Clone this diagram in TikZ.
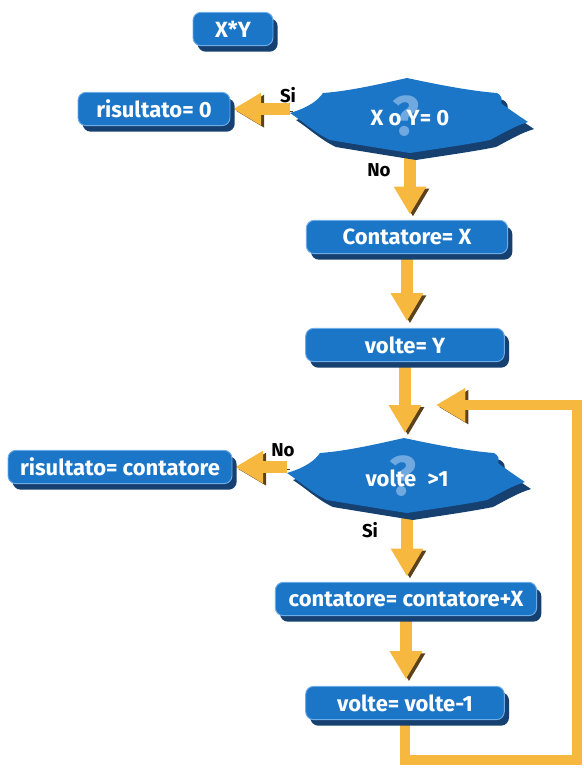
\documentclass[tikz,border=0pt]{standalone}
\usepackage{fontspec}
\setmainfont{Fira Sans}
\usetikzlibrary{arrows.meta, shadows, backgrounds, calc}

\definecolor{BoxBlue}{RGB}{28,118,200}
\definecolor{BoxShade}{RGB}{22,64,112}
\definecolor{BoxEdge}{RGB}{110,172,232}
\definecolor{QuestBlue}{RGB}{112,168,224}
\definecolor{FlowYellow}{RGB}{247,184,64}
\definecolor{FlowShade}{RGB}{92,66,28}

% decision block: dark copy first, blue face on top (units are the picture's px)
\newcommand{\decisionshape}[1]{%
  \foreach \col/\dx/\dy in {BoxShade/6/7, BoxBlue/0/0}
    \fill[\col, shift={(#1)}, shift={(\dx,\dy)}]
      (-3,-40) .. controls (-30,-34) and (-60,-27) .. (-87,-25)
      .. controls (-92,-18) and (-100,-11) .. (-120,-5)
      .. controls (-105,5) and (-95,15) .. (-80,22)
      .. controls (-50,27) and (-25,31) .. (0,35)
      .. controls (25,31) and (55,27) .. (80,22)
      .. controls (95,14) and (105,8) .. (118,4)
      .. controls (106,-4) and (96,-11) .. (91,-15)
      .. controls (93,-19) and (91,-23) .. (87,-25)
      .. controls (60,-27) and (25,-34) .. cycle;
}

\begin{document}
\begin{tikzpicture}[x=0.75pt, y=-0.75pt,
    box/.style={rounded corners=6pt, fill=BoxBlue, draw=BoxEdge, line width=0.7pt,
      text=white, font=\bfseries\fontsize{16.5}{18}\selectfont, minimum height=25pt,
      general shadow={fill=BoxShade, shadow xshift=3.5pt, shadow yshift=-4.5pt}},
    decision/.style={text=white, font=\bfseries\fontsize{16.5}{18}\selectfont,
      minimum width=180pt, minimum height=57pt, inner sep=0pt},
    quest/.style={text=QuestBlue, font=\bfseries\fontsize{42}{42}\selectfont},
    lab/.style={font=\bfseries\fontsize{14}{15}\selectfont},
    flow/.style={draw=FlowYellow, line width=9pt, -{Triangle[length=21pt,width=23pt]},
      preaction={draw=FlowShade, transform canvas={shift={(2.2pt,-1.6pt)}}}},
    flowloop/.style={flow, line width=8pt, -{Triangle[length=22pt,width=24pt]}}
  ]
  \useasboundingbox (0,0) rectangle (584,769);

  % blocks
  \node[box, minimum width=60pt] (start) at (233,29) {X*Y};
  \node[box, minimum width=114pt] (zero) at (154,109) {risultato= 0};

  \decisionshape{410,118}
  \node[quest] (q1) at (406,116) {?};
  \node[decision] (test1) at (410,118) {X o Y= 0};

  \node[box, minimum width=151pt] (count) at (407,237) {Contatore= X};
  \node[box, minimum width=149pt] (times) at (405,345) {volte= Y};

  \decisionshape{407,478}
  \node[quest] (q2) at (403,476) {?};
  \node[decision] (test2) at (407,478) {volte\enspace>1};

  \node[box, minimum width=168pt] (result) at (120,467) {risultato= contatore};
  \node[box, minimum width=196pt] (add) at (406,599) {contatore= contatore+X};
  \node[box, minimum width=149pt] (dec) at (405,703) {volte= volte-1};

  % branch labels
  \node[lab] (si1) at (288,95) {Si};
  \node[lab] (no1) at (379,170) {No};
  \node[lab] (no2) at (283,450) {No};
  \node[lab] (si2) at (370,530) {Si};

  \coordinate (loopin) at (436,405);
  \coordinate (loopturn) at (577,760);

  % arrows behind the blocks
  \begin{scope}[on background layer]
    \draw[flow, shorten >=2pt] (test1.west |- zero.east) -- (zero.east);
    \draw[flow, shorten >=4pt] (test1.south) -- (test1.south |- count.north);
    \draw[flow, shorten >=5pt] (count.south) -- (count.south |- times.north);
    \draw[flow, shorten >=5pt] (times.south) -- (times.south |- test2.north);
    \draw[flow, shorten >=2pt] (test2.west |- result.east) -- (result.east);
    \draw[flow, shorten >=4pt] (test2.south) -- (test2.south |- add.north);
    \draw[flow, shorten >=5pt] (add.south) -- (add.south |- dec.north);
    \draw[flowloop] (dec.south) |- (loopturn) |- (loopin);
  \end{scope}
\end{tikzpicture}
\end{document}
